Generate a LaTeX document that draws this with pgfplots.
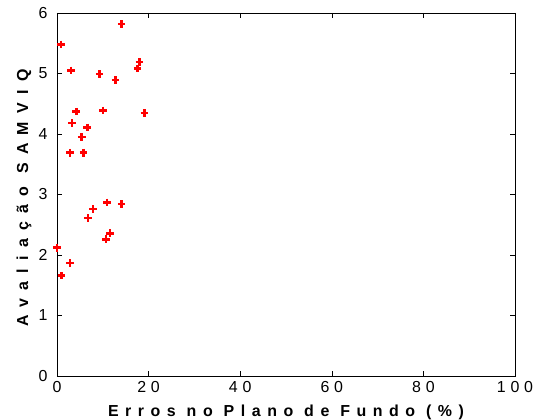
\documentclass[border=0pt]{standalone}
\usepackage{fontspec}
\setmainfont{Liberation Sans}[LetterSpace=30]
\newfontfamily\xlabfont{Liberation Sans}[LetterSpace=41]
\newfontfamily\ylabfont{Liberation Sans}[LetterSpace=52]
\usepackage{pgfplots}
\pgfplotsset{compat=1.18}
\usetikzlibrary{calc}
\begin{document}
\begin{tikzpicture}
\begin{axis}[
    name=ax,
    scale only axis,
    width=458bp, height=363bp,
    xmin=0, xmax=100, ymin=0, ymax=6,
    xtick={0,20,...,100}, ytick={0,1,...,6},
    tick align=inside,
    major tick length=5bp,
    axis line style={line width=0.8pt},
    every tick/.style={line width=0.6pt},
    /pgf/number format/assume math mode=true,
    tick label style={font=\fontsize{16}{18}\selectfont},
    xticklabel style={yshift=-2bp},
    yticklabel style={xshift=-6bp},
    xlabel={\xlabfont\bfseries Erros no Plano de Fundo (\%)},
    ylabel={\ylabfont\bfseries Avaliação SAMVIQ},
    label style={font=\fontsize{16}{18}\selectfont},
    x label style={at={(axis description cs:0.5,-0.1)},anchor=center},
    y label style={at={(axis description cs:-0.072,0.49)},anchor=center},
    clip=false
]
% data
\addplot[only marks, red, mark=+, mark size=3.8pt, line width=2.6pt] coordinates {
    (0.9,5.48) (14.1,5.82) (3.1,5.05) (9.3,4.99) (12.8,4.89)
    (17.6,5.08) (18.0,5.19) (4.2,4.37) (10.0,4.39) (19.1,4.35)
    (3.3,4.18) (6.6,4.11) (5.4,3.95) (2.8,3.69) (5.8,3.69)
    (10.9,2.87) (14.1,2.84) (7.9,2.76) (6.8,2.61) (11.6,2.36)
    (10.7,2.26) (0.0,2.12) (2.8,1.87) (1.0,1.66)
};
\end{axis}
\pgfresetboundingbox
\path ($(ax.south west)+(-57bp,-44bp)$) rectangle ($(ax.north east)+(28bp,13bp)$);
\end{tikzpicture}
\end{document}
